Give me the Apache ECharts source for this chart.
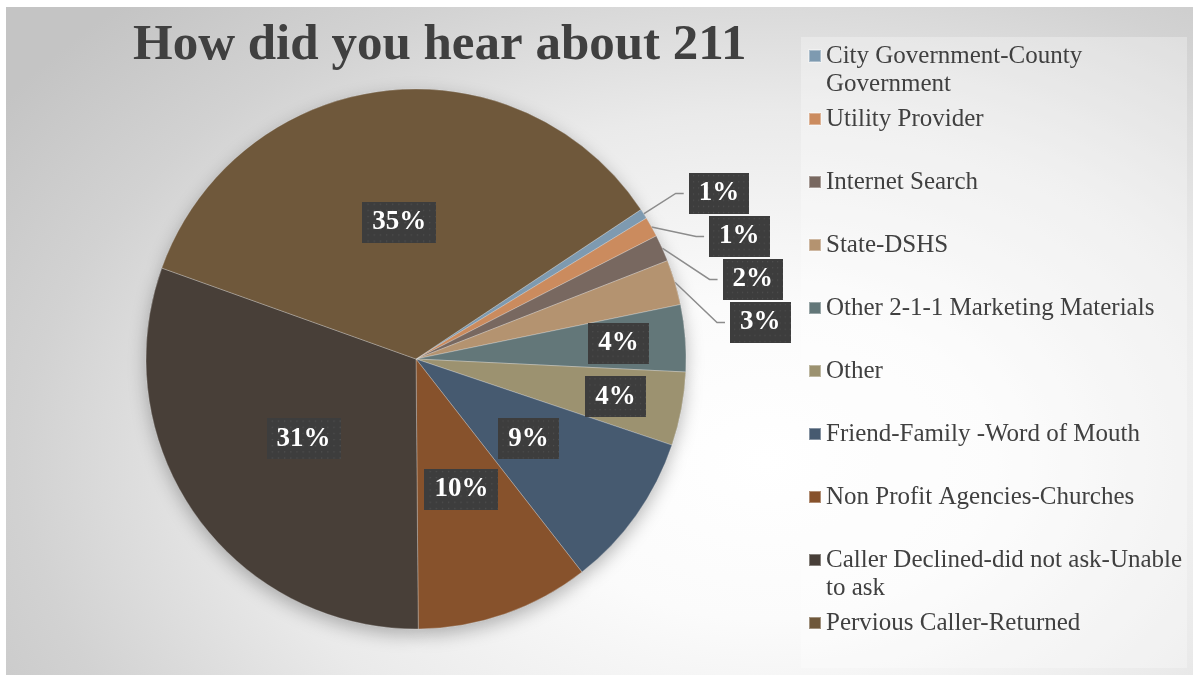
<!DOCTYPE html>
<html>
<head>
<meta charset="utf-8">
<script src="https://cdn.jsdelivr.net/npm/echarts@6/dist/echarts.min.js"></script>
<style>
  html, body { margin: 0; padding: 0; background: #ffffff; width: 1193px; height: 675px; overflow: hidden; }
  #chart {
    position: absolute; left: 6px; top: 7px; width: 1187px; height: 668px;
    background: radial-gradient(ellipse 78% 95% at 64% 68%, #ffffff 0%, #fbfbfb 25%, #eaeaea 55%, #d2d2d2 80%, #c4c4c4 100%);
  }
</style>
</head>
<body>
<div id="chart"></div>
<script>
// ---- data ----
const titleText = 'How did you hear about 211';
const categories = [
  'City Government-County Government',
  'Utility Provider',
  'Internet Search',
  'State-DSHS',
  'Other 2-1-1 Marketing Materials',
  'Other',
  'Friend-Family -Word of Mouth',
  'Non Profit Agencies-Churches',
  'Caller Declined-did not ask-Unable to ask',
  'Pervious Caller-Returned'
];
const values = [0.6, 1.2, 1.6, 2.7, 4.0, 4.4, 9.3, 10.4, 30.6, 35.2];

// ---- styles ----
const palette = ['#7e9ab0', '#cb8b5e', '#786860', '#b49370', '#637779',
                 '#9c9270', '#465a70', '#87522c', '#483f38', '#6f583b'];

const chart = echarts.init(document.getElementById('chart'), null, { renderer: 'canvas' });

// label box texture (dark with light dots)
const tex = document.createElement('canvas');
tex.width = 72; tex.height = 40;
(function () {
  const c = tex.getContext('2d');
  c.fillStyle = '#3d3d3d';
  c.fillRect(0, 0, 72, 40);
  c.fillStyle = '#505050';
  for (let y = 2; y < 40; y += 6) {
    for (let x = 2; x < 72; x += 6) {
      c.fillRect(x + ((y / 6) % 2 ? 3 : 0), y, 1.3, 1.3);
    }
  }
})();

const labelBox = {
  color: '#ffffff',
  fontFamily: '"Liberation Serif", serif',
  fontWeight: 'bold',
  fontSize: 27,
  lineHeight: 28,
  padding: [7, 10, 6, 10],
  backgroundColor: { image: tex },
  shadowColor: 'rgba(0,0,0,0.45)',
  shadowBlur: 6,
  shadowOffsetX: 3,
  shadowOffsetY: 3,
  formatter: p => Math.round(p.percent) + '%'
};

// legend wrapping
const legendFontSize = 25;
const measure = document.createElement('canvas').getContext('2d');
measure.font = legendFontSize + 'px "Liberation Serif"';
function wrapName(name, maxW) {
  const words = name.split(' ');
  const lines = [];
  let cur = '';
  words.forEach(w => {
    const t = cur ? cur + ' ' + w : w;
    if (cur && measure.measureText(t).width > maxW) { lines.push(cur); cur = w; }
    else cur = t;
  });
  lines.push(cur);
  return lines;
}

const mainData = categories.map((n, i) => {
  const v = values[i];
  const inside = v >= 5, outside = v < 3.5;
  return {
    name: n, value: v,
    label: inside ? { show: true, position: 'inside' } : (outside ? { show: true, position: 'outside' } : { show: false }),
    labelLine: { show: outside }
  };
});
const ringData = categories.map((n, i) => {
  const v = values[i];
  return { name: n, value: v, label: { show: v >= 3.5 && v < 5 } };
});

const center = [410, 352];
const R = 270;
const startAngle = 33.6;

chart.setOption({
  animation: false,
  color: palette,
  title: {
    text: titleText,
    left: 122, top: 4,
    textStyle: { fontFamily: '"Liberation Serif", serif', fontWeight: 'bold', fontSize: 51, color: '#404040', lineHeight: 60 }
  },
  graphic: [{
    type: 'rect', left: 795, top: 30, silent: true, z: -1,
    shape: { width: 386, height: 631 },
    style: { fill: 'rgba(255,255,255,0.3)' }
  }],
  legend: {
    orient: 'vertical',
    left: 802, top: 7,
    padding: 0,
    itemGap: -21,
    itemWidth: 12, itemHeight: 12,
    icon: 'rect',
    data: categories,
    textStyle: { fontFamily: '"Liberation Serif", serif', fontSize: legendFontSize, color: '#404040', lineHeight: 28 },
    formatter: name => {
      const l = wrapName(name, 368);
      return '\n' + l[0] + '\n' + (l[1] || ' ');
    }
  },
  series: [
    {
      type: 'pie', z: 2, center: center, radius: R, startAngle: startAngle,
      data: mainData,
      itemStyle: { borderColor: 'rgba(255,255,255,0.35)', borderWidth: 0.8 },
      label: labelBox,
      labelLine: { length: 38, length2: 8, lineStyle: { color: '#8c8c8c', width: 1.5 } }
    },
    { // soft shadow under the pie
      type: 'pie', z: 1, silent: true, center: center, radius: R, startAngle: startAngle,
      data: categories.map((n, i) => ({ name: n, value: values[i] })),
      label: { show: false }, labelLine: { show: false },
      itemStyle: { color: '#888888', shadowColor: 'rgba(0,0,0,0.28)', shadowBlur: 18, shadowOffsetY: 6 }
    },
    { // ring used to place labels of mid-size slices further out
      type: 'pie', z: 3, silent: true, center: center, radius: [130, R], startAngle: startAngle,
      data: ringData,
      itemStyle: { color: 'rgba(0,0,0,0)' },
      label: Object.assign({}, labelBox, { position: 'inside' }),
      labelLine: { show: false }
    }
  ]
});
</script>
</body>
</html>
